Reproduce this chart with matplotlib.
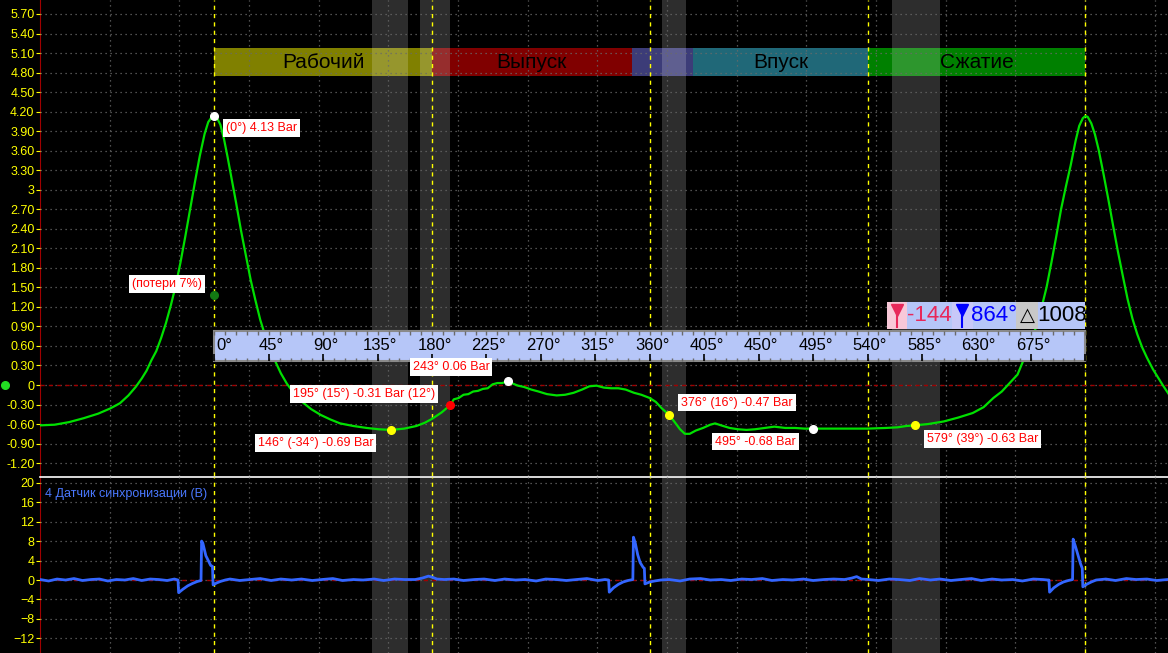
import numpy as np
import matplotlib.pyplot as plt
from matplotlib.patches import Rectangle

plt.rcParams['font.family'] = ['Liberation Sans', 'DejaVu Sans']

# --- Data: cylinder pressure (bar) vs crank angle (deg) ---
press_deg = [-144, -132, -120, -108, -96, -86, -78, -71, -65, -60, -56, -52, -48, -44, -40, -36,
             -32, -28, -24, -20, -16, -12, -8, -5, -2, 0, 2, 5, 8, 11, 14, 18, 22, 26, 30, 34,
             38, 42, 46, 50, 55, 60, 66, 72, 80, 88, 96, 104, 115, 126, 136, 146, 157, 167, 174,
             180, 188, 195, 198, 202, 206, 210, 214, 218, 222, 226, 230, 234, 238, 243, 247, 251,
             256, 262, 268, 275, 283, 290, 297, 304, 310, 316, 322, 328, 334, 340, 347, 353, 360,
             365, 370, 376, 381, 385, 389, 393, 398, 404, 410, 414, 419, 426, 433, 440, 447, 455,
             463, 472, 480, 488, 495, 510, 525, 540, 555, 565, 572, 579, 590, 603, 615, 627, 636,
             644, 651, 656, 660, 664, 668, 672, 676, 680, 684, 688, 692, 696, 700, 704, 708, 712,
             715, 718, 720, 722, 725, 728, 731, 735, 739, 743, 747, 751, 755, 759, 763, 767, 771,
             776, 780, 784, 789]
press_bar = [-0.62, -0.61, -0.57, -0.51, -0.44, -0.36, -0.28, -0.16, -0.03, 0.10, 0.22, 0.38, 0.52,
             0.72, 0.95, 1.22, 1.52, 1.88, 2.28, 2.70, 3.12, 3.52, 3.86, 4.04, 4.12, 4.13, 4.11,
             4.00, 3.78, 3.50, 3.20, 2.80, 2.38, 2.00, 1.62, 1.30, 1.00, 0.76, 0.56, 0.38, 0.18,
             0.02, -0.13, -0.25, -0.37, -0.46, -0.53, -0.59, -0.63, -0.66, -0.68, -0.69, -0.67,
             -0.63, -0.58, -0.52, -0.42, -0.31, -0.22, -0.20, -0.15, -0.14, -0.10, -0.09, -0.06,
             -0.05, 0.01, 0.03, 0.03, 0.06, 0.02, -0.01, -0.03, -0.07, -0.10, -0.14, -0.16, -0.15,
             -0.12, -0.07, -0.02, -0.01, -0.04, -0.05, -0.05, -0.07, -0.12, -0.15, -0.20, -0.26,
             -0.36, -0.46, -0.58, -0.68, -0.75, -0.75, -0.70, -0.66, -0.61, -0.59, -0.62, -0.66,
             -0.68, -0.69, -0.68, -0.66, -0.64, -0.66, -0.66, -0.67, -0.67, -0.67, -0.67, -0.67,
             -0.66, -0.65, -0.63, -0.62, -0.60, -0.56, -0.50, -0.43, -0.34, -0.20, -0.10, 0.00,
             0.08, 0.16, 0.34, 0.52, 0.72, 0.92, 1.20, 1.50, 1.88, 2.28, 2.70, 3.05, 3.38, 3.75,
             3.98, 4.10, 4.13, 4.12, 4.02, 3.85, 3.62, 3.25, 2.86, 2.45, 2.05, 1.68, 1.32, 1.02,
             0.78, 0.58, 0.42, 0.24, 0.12, 0.00, -0.14]

# --- Data: sync sensor (V) ---
sync_deg = [-144, -137, -130, -123, -116, -109, -102, -95, -88, -81, -74, -67, -60, -53, -46, -39, -33,
            -30, -29.5, -26, -22, -18, -14, -11, -10.5, -9.5, -7, -5, -3, -1.5, -1, 2, 5, 9,
            13, 21, 30, 38, 47, 55, 64, 72, 81, 89, 98, 106, 115, 123, 132, 140, 149, 157, 166,
            172, 177, 180, 184, 190, 198, 206, 215, 223, 232, 240, 249, 257, 266, 274, 283, 291,
            300, 308, 317, 323,
            326, 326.5, 330, 334, 338, 342, 346, 346.5, 348, 350, 352, 354.5, 355.5, 356, 360, 364, 369,
            376, 385, 393, 402, 410, 419, 427, 436, 444, 453, 461, 470, 478, 487, 495, 504, 512,
            521, 527, 531, 535, 541, 549, 558, 566, 575, 583, 592, 600, 609, 617, 626, 634, 643,
            651, 660, 668, 677, 685, 689,
            690, 690.5, 694, 698, 702, 706, 709.5, 710, 712, 714, 716, 717.5, 718, 721, 725, 729,
            737, 745, 754, 762, 771, 779, 788]
sync_volt = [0.1, -0.2, 0.2, 0.0, 0.3, -0.1, 0.1, 0.2, -0.2, 0.1, 0.0, 0.3, -0.1, 0.2, 0.1, -0.1, 0.2,
             0.0, -2.6, -1.9, -1.2, -0.7, -0.3, -0.1, 8.0, 7.6, 5.0, 4.0, 3.0, 2.8, -1.0, -0.6, -0.3, 0.0,
             0.2, -0.1, 0.1, 0.3, -0.1, 0.2, 0.0, 0.2, -0.1, 0.1, 0.3, -0.1, 0.1, 0.0, 0.2, -0.1, 0.2,
             0.1, 0.1, 0.4, 0.8, 0.6, 0.2, 0.1, 0.2, -0.1, 0.1, 0.2, -0.1, 0.2, 0.0, 0.1, -0.2, 0.2,
             0.1, -0.1, 0.1, 0.3, -0.1, 0.1,
             0.0, -2.5, -1.6, -0.9, -0.4, -0.1, 0.1, 8.8, 7.6, 5.2, 3.6, 2.6, 2.4, -0.8, -0.4, -0.2, 0.0,
             0.1, -0.2, 0.2, 0.3, 0.0, 0.1, -0.1, 0.2, 0.1, 0.3, -0.1, 0.1, 0.0, 0.2, -0.1, 0.1, 0.2,
             0.1, 0.4, 0.7, 0.2, 0.1, -0.1, 0.2, 0.1, -0.1, 0.3, 0.0, 0.2, -0.1, 0.1, 0.3, -0.1, 0.2,
             0.0, 0.1, -0.2, 0.2, 0.1, 0.0,
             0.0, -2.5, -1.6, -0.9, -0.4, -0.1, 0.1, 8.4, 6.8, 5.1, 3.4, 2.4, -1.4, -0.9, -0.4, 0.0,
             0.2, -0.1, 0.3, 0.1, 0.2, -0.1, 0.1]

# --- Data: marked points ---
mark_deg = [0, 146, 195, 243, 376, 495, 579]
mark_bar = [4.13, -0.69, -0.31, 0.06, -0.46, -0.67, -0.62]
mark_color = ['white', '#ffff00', '#ff0000', 'white', '#ffff00', 'white', '#ffff00']
mark_text = ['(0°) 4.13 Bar', '146° (-34°) -0.69 Bar', '195° (15°) -0.31 Bar (12°)',
             '243° 0.06 Bar', '376° (16°) -0.47 Bar', '495° -0.68 Bar', '579° (39°) -0.63 Bar']
loss_deg, loss_bar, loss_text = 0, 1.38, '(потери 7%)'

# --- Data: engine phases ---
phase_names = ['Рабочий', 'Выпуск', '', 'Впуск', 'Сжатие']
phase_start = [0, 180, 345, 396, 540]
phase_end = [180, 345, 396, 540, 720]
phase_colors = ['#808000', '#800000', '#3c3c78', '#206878', '#008000']

gray_bands = [(130, 160), (170, 195), (370, 390), (560, 600)]
tdc_marks = [0, 180, 360, 540, 720]
ruler_labels = [f'{d}°' for d in range(0, 720, 45)]
cursor_left, cursor_right = -144, 864

# --- Layout ---
XMIN, XMAX = -144.1, 788.4
W, H = 1168, 653
fig = plt.figure(figsize=(W / 100, H / 100), dpi=100, facecolor='black')
ax = fig.add_axes([40 / W, 1 - 476 / H, 1128 / W, 476 / H], facecolor='black')
ax2 = fig.add_axes([40 / W, 0, 1128 / W, 176 / H], facecolor='black')

grid_x = np.arange(-144.1 + 57.6, XMAX, 57.6)
dot = (0, (1, 3))
dash = (0, (3, 3))

for a in (ax, ax2):
    a.set_xlim(XMIN, XMAX)
    a.set_xticks(grid_x)
    a.tick_params(axis='x', length=0, labelbottom=False)
    a.tick_params(axis='y', colors='#ffff00', labelcolor='#ffff00', length=3, pad=1, labelsize=9)
    for s in a.spines.values():
        s.set_visible(False)
    a.spines['left'].set_visible(True)
    a.spines['left'].set_color('#a00000')
    a.set_axisbelow(False)
    a.grid(True, color='#6a6a6a', linestyle=dot, linewidth=0.9)
    a.axhline(0, color='#a00000', linestyle=dash, linewidth=1, zorder=2.6)
    for d in tdc_marks:
        a.axvline(d, color='#ffff00', linestyle=dash, linewidth=1, zorder=2.7)
    for b0, b1 in gray_bands:
        a.axvspan(b0, b1, color='white', alpha=0.18, linewidth=0, zorder=1.2)

# --- Top panel: pressure ---
ax.set_ylim(-1.398, 5.915)
yt = np.round(np.arange(-1.2, 5.71, 0.3), 2)
ax.set_yticks(yt)
ax.set_yticklabels([f'{int(round(v))}' if abs(v - round(v)) < 1e-9 else f'{v:.2f}' for v in yt])

# phase bars
for name, s0, s1, c in zip(phase_names, phase_start, phase_end, phase_colors):
    ax.add_patch(Rectangle((s0, 4.74), s1 - s0, 0.44, facecolor=c, edgecolor='none', zorder=1))
    if name:
        ax.text((s0 + s1) / 2, 4.96, name, color='black', fontsize=15, ha='center', va='center', zorder=3)

ax.plot(press_deg, press_bar, color='#00e000', linewidth=1.6, zorder=3)

# marked points with labels
label_pos = [(9.5, 3.95), (36, -0.89), (65, -0.14), (164, 0.28), (386, -0.27), (414, -0.87), (589, -0.83)]
for d, b, c, t, (lx, ly) in zip(mark_deg, mark_bar, mark_color, mark_text, label_pos):
    ax.plot(d, b, 'o', color=c, markersize=5.5, zorder=5)
    ax.text(lx, ly, t, color='#ff0000', fontsize=9, ha='left', va='center', zorder=10,
            bbox=dict(facecolor='white', edgecolor='none', pad=2))
ax.plot(loss_deg, loss_bar, 'o', color='#137a13', markersize=5.5, zorder=5)
ax.text(-68, 1.55, loss_text, color='#ff0000', fontsize=9, ha='left', va='center', zorder=10,
        bbox=dict(facecolor='white', edgecolor='none', pad=2))

# channel marker in the left margin
ax.plot(-173, 0, 'o', color='#22dd22', markersize=5.5, clip_on=False, zorder=5)

# --- Degree ruler ---
r0, r1 = 0.37, 0.83
ax.add_patch(Rectangle((0, r0), 720, r1 - r0, facecolor='#b6c6f8', edgecolor='#8a8a8a',
                       linewidth=1.5, zorder=7))
minor = np.arange(0, 721, 9)
ax.vlines(minor, r1 - 0.06, r1, color='#6a6a6a', linewidth=1, zorder=8)
ax.vlines(minor, r0, r0 + 0.045, color='#6a6a6a', linewidth=1, zorder=8)
ax.vlines(np.arange(0, 721, 45), r0, r0 + 0.1, color='black', linewidth=1.2, zorder=8)
for i, lab in enumerate(ruler_labels):
    if i == 0:
        ax.text(1.5, 0.60, lab, fontsize=12, color='black', ha='left', va='center', zorder=9)
    else:
        ax.text(i * 45 + 2, 0.60, lab, fontsize=12, color='black', ha='center', va='center', zorder=9)

# --- Cursor header ---
h0, h1 = 0.86, 1.275
segs = [(556.1, 572.6, '#f8c8d8'), (572.6, 609.8, '#b6c6f8'), (609.8, 627.2, '#c8c8f8'),
        (627.2, 662.8, '#b6c6f8'), (662.8, 681.0, '#c8c8c8'), (681.0, 720.0, '#b6c6f8')]
for x0, x1, c in segs:
    ax.add_patch(Rectangle((x0, h0), x1 - x0, h1 - h0, facecolor=c, edgecolor='none', zorder=7))
for fx, fc in [(564.4, '#e8285a'), (618.5, '#0000ff')]:
    ax.plot(fx, 1.15, marker='v', color=fc, markersize=8, zorder=9)
    ax.plot([fx, fx], [1.15, 0.89], color=fc, linewidth=1.5, zorder=9)
hy = (h0 + h1) / 2
ax.text(591.2, hy, f'{cursor_left}', color='#e8285a', fontsize=16, ha='center', va='center', zorder=9)
ax.text(645.0, hy, f'{cursor_right}°', color='#0000ff', fontsize=16, ha='center', va='center', zorder=9)
ax.text(671.9, hy - 0.02, '△', color='black', fontsize=14, ha='center', va='center', zorder=9)
ax.text(700.5, hy, f'{cursor_right - cursor_left}', color='black', fontsize=16, ha='center',
        va='center', zorder=9)

# --- Bottom panel: sync sensor ---
ax2.set_ylim(-15.0, 21.17)
ax2.set_yticks([20, 16, 12, 8, 4, 0, -4, -8, -12])
ax2.spines['top'].set_visible(True)
ax2.spines['top'].set_color('white')
ax2.spines['top'].set_linewidth(1.2)
ax2.plot(sync_deg, sync_volt, color='#3366ff', linewidth=2.0, zorder=3)
ax2.text(5 / 1128, 0.905, '4 Датчик синхронизации (В)', transform=ax2.transAxes,
         color='#4a78ff', fontsize=9, ha='left', va='center', zorder=6)

fig.savefig('out.png', dpi=100, facecolor='black')
